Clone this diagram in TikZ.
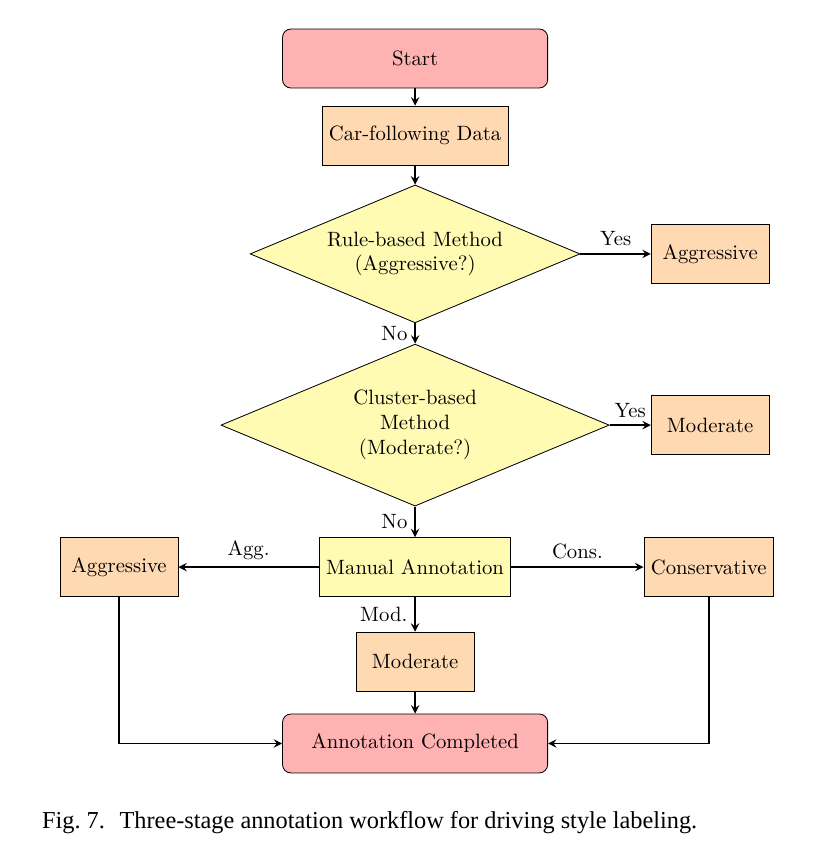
\documentclass[tikz,border=0pt]{standalone}
\usepackage{fontspec}
\newfontfamily\capfont{Liberation Serif}
\usetikzlibrary{arrows,shapes.geometric}

\begin{document}
\begin{tikzpicture}[x=1cm,y=-1cm]
\tikzstyle{terminal} = [rectangle, rounded corners, draw, thin, fill=red!30, minimum width=4.5cm, minimum height=1cm]
\tikzstyle{process} = [rectangle, draw, thin, fill=orange!30, minimum width=2cm, minimum height=1cm]
\tikzstyle{manual} = [process, fill=yellow!30]
\tikzstyle{decision} = [diamond, draw, thin, fill=yellow!30, align=center, inner sep=0pt, aspect=2.4]
\tikzstyle{flow} = [->, >=stealth, thick]
\useasboundingbox (0,0) rectangle (14.02,14.70);
\node[terminal] (start) at (7.046,0.993) {Start};
\node[process] (data) at (7.046,2.30) {Car-following Data};
\node[decision, minimum width=5.6cm, minimum height=2.34cm] (rule) at (7.046,4.31) {Rule-based Method\\(Aggressive?)};
\node[process] (aggr) at (12.054,4.31) {Aggressive};
\node[decision, minimum width=6.59cm, minimum height=2.75cm] (cluster) at (7.046,7.216) {Cluster-based\\Method\\(Moderate?)};
\node[process] (mode) at (12.054,7.216) {Moderate};
\node[manual] (annot) at (7.046,9.626) {Manual Annotation};
\node[process] (aggl) at (2.02,9.626) {Aggressive};
\node[process] (cons) at (12.03,9.626) {Conservative};
\node[process] (modb) at (7.046,11.23) {Moderate};
\node[terminal] (done) at (7.046,12.62) {Annotation Completed};
\node[anchor=base west, inner sep=0pt, font=\capfont\fontsize{11.75}{14}\selectfont] (caption) at (0.708,14.06)
    {Fig.~7.\hspace{0.6em}Three-stage annotation workflow for driving style labeling.};
% connectors
\draw[flow] (start) -- (data);
\draw[flow] (data) -- (rule);
\draw[flow] (rule.east) -- node[above] {Yes} (aggr);
\draw[flow] (rule.south) -- node[left] {No} (cluster.north);
\draw[flow] (cluster.east) -- node[above] {Yes} (mode);
\draw[flow] (cluster.south) -- node[left] {No} (annot);
\draw[flow] (annot) -- node[above] {Agg.} (aggl);
\draw[flow] (annot) -- node[above] {Cons.} (cons);
\draw[flow] (annot) -- node[left] {Mod.} (modb);
\draw[flow] (modb) -- (done);
\draw[flow] (aggl.south) |- (done.west);
\draw[flow] (cons.south) |- (done.east);
\end{tikzpicture}
\end{document}
